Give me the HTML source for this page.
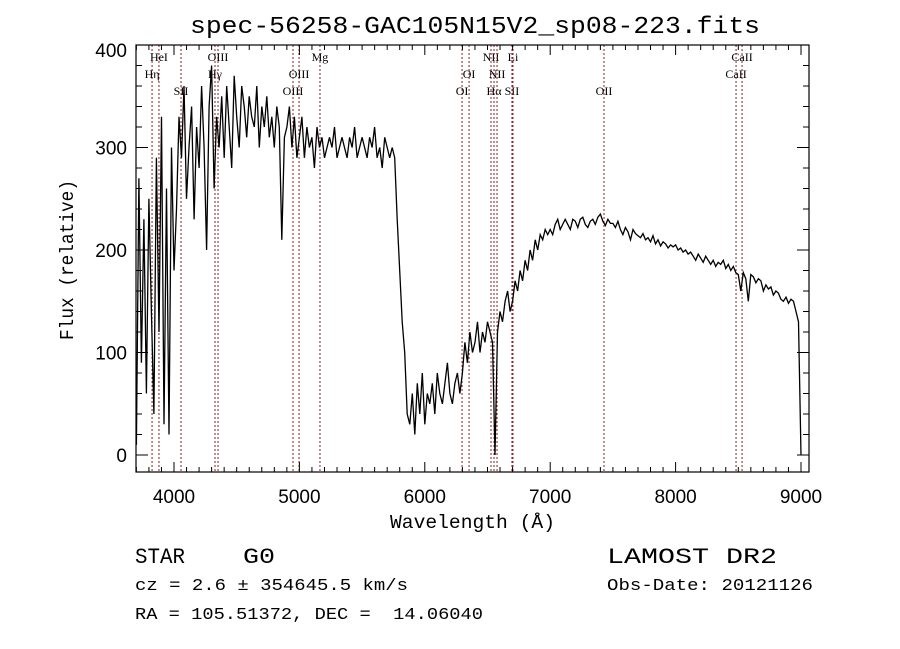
<!DOCTYPE html>
<html><head><meta charset="utf-8"><style>
html,body{margin:0;padding:0;background:#fff;}
svg{display:block;}
text{font-family:"Liberation Sans",sans-serif;fill:#000;}
.mono{font-family:"Liberation Mono",monospace;}
.lbl{font-family:"Liberation Serif",serif;font-size:12px;}
</style></head><body>
<svg id="chart" width="900" height="649" viewBox="0 0 900 649" xmlns="http://www.w3.org/2000/svg">
<rect x="0" y="0" width="900" height="649" fill="#fff"/>
<text class="mono" x="190" y="33" font-size="24" textLength="570" lengthAdjust="spacingAndGlyphs">spec-56258-GAC105N15V2_sp08-223.fits</text>
<g id="lines"></g>
<g id="spec"></g>
<g id="axes"></g>
<text class="mono" x="390" y="528" font-size="19" textLength="165" lengthAdjust="spacingAndGlyphs">Wavelength (Å)</text>
<text class="mono" x="0" y="0" font-size="19" textLength="160" lengthAdjust="spacingAndGlyphs" transform="translate(73,340) rotate(-90)">Flux (relative)</text>
<text class="mono" x="135" y="563" font-size="22" textLength="50" lengthAdjust="spacingAndGlyphs">STAR</text>
<text class="mono" x="243" y="563" font-size="22" textLength="32" lengthAdjust="spacingAndGlyphs">G0</text>
<text class="mono" x="135" y="590" font-size="17" textLength="273" lengthAdjust="spacingAndGlyphs">cz = 2.6 ± 354645.5 km/s</text>
<text class="mono" x="135" y="619" font-size="17" textLength="348" lengthAdjust="spacingAndGlyphs" xml:space="preserve">RA = 105.51372, DEC =  14.06040</text>
<text class="mono" x="607" y="563" font-size="22" textLength="170" lengthAdjust="spacingAndGlyphs">LAMOST DR2</text>
<text class="mono" x="607" y="590" font-size="17" textLength="206" lengthAdjust="spacingAndGlyphs">Obs-Date: 20121126</text>
</svg>
<script>
const waveStart = 3700;
const waveStep = 20;
const flux = [
10,270,90,230,60,250,140,40,290,120,330,30,260,20,300,
180,240,330,290,360,250,300,340,230,320,280,360,300,200,340,380,260,330,300,350,290,360,320,280,370,
330,300,360,340,310,350,330,320,360,300,340,320,350,310,330,300,340,320,210,310,320,340,300,330,290,
310,330,290,320,300,310,280,320,300,310,290,300,310,300,320,290,300,310,300,290,310,300,320,290,300,
310,300,290,310,300,320,290,300,280,310,300,290,300,290,230,
180,130,100,40,30,60,20,70,40,80,30,60,50,70,40,80,60,50,70,90,60,50,70,80,60,
80,110,90,120,100,110,130,100,120,110,130,120,110,
0,120,
140,130,150,160,140,150,170,160,180,170,190,180,200,190,210,200,215,210,220,215,
220,215,225,230,220,225,230,225,220,230,228,222,230,232,225,222,228,230,225,232,235,228,224,230,226,
226,222,228,220,215,222,218,210,220,216,214,212,216,210,212,208,214,206,210,204,208,206,202,205,203,
205,200,202,198,200,196,198,194,190,196,192,188,194,190,186,190,184,188,186,190,182,186,180,184,178,
176,160,178,172,150,176,174,168,172,170,160,166,162,164,156,160,158,152,150,154,148,152,150,140,130,
0
];
const lineWaves = [3825,3880,4056,4327,4351,4949,4997,5164,6297,6353,6528,6552,6576,6695,6703,7429,8482,8530];
const lineNames = ["Hη","HeI","SII","Hγ","OIII","OIII","OIII","Mg","OI","OI","NII","Hα","NII","SII","Li","OII","CaII","CaII"];
const lineRows = [2,1,3,2,1,3,2,1,3,2,1,3,2,3,1,3,2,1];
const xTickLabels = ["4000","5000","6000","7000","8000","9000"];
const xTickValues = [4000,5000,6000,7000,8000,9000];
const yTickLabels = ["0","100","200","300","400"];
const yTickValues = [0,100,200,300,400];

const L=136,R=809,T=45,B=472;
const xMin=4000-(174-L)/0.1254, xMax=9000+(R-801)/0.1254;
const yMin=-(B-455)/1.0254, yMax=400;
function X(w){return L+(w-xMin)/(xMax-xMin)*(R-L);}
function Y(f){return B-(f-yMin)/(yMax-yMin)*(B-T);}
const NS="http://www.w3.org/2000/svg";
function mk(t,a,p){const e=document.createElementNS(NS,t);for(const k in a)e.setAttribute(k,a[k]);p.appendChild(e);return e;}

let d="";
flux.forEach((f,i)=>{const w=waveStart+i*waveStep;d+=(i?"L":"M")+X(w).toFixed(1)+","+Y(f).toFixed(1);});
const sp=mk("path",{d:d,fill:"none",stroke:"#000","stroke-width":"1.3","stroke-linejoin":"miter"},document.getElementById("spec"));



const lg=document.getElementById("lines");
const rowY=[0,61,78,95];
lineWaves.forEach((w,i)=>{
  const x=X(w);
  const ln=mk("line",{x1:x,y1:T,x2:x,y2:B,stroke:"#8b2020","stroke-width":"1","stroke-dasharray":"2,2"},lg);
  
  
  const tx=mk("text",{x:x,y:rowY[lineRows[i]],"text-anchor":"middle",class:"lbl"},lg);
  tx.textContent=lineNames[i];
  
  
});

const ax=document.getElementById("axes");
const fr=mk("rect",{x:L,y:T,width:R-L,height:B-T,fill:"none",stroke:"#000","stroke-width":"1.2"},ax);


let td="";
for(let w=3700;w<=9000;w+=100){const x=X(w);const len=(w%1000===0)?10:5;td+=`M${x},${B}v${-len}M${x},${T}v${len}`;}
for(let f=0;f<=400;f+=20){const y=Y(f);const len=(f%100===0)?12:6;td+=`M${L},${y}h${len}M${R},${y}h${-len}`;}
const tk=mk("path",{d:td,stroke:"#000","stroke-width":"1",fill:"none"},ax);


xTickValues.forEach((v,i)=>{
  const t=mk("text",{x:X(v),y:503,"font-size":"19","text-anchor":"middle"},ax);
  t.textContent=xTickLabels[i];
  
  
});
yTickValues.forEach((v,i)=>{
  let y=Y(v)+7; if(v===400) y=Y(v)+12;
  const t=mk("text",{x:127,y:y,"font-size":"19","text-anchor":"end"},ax);
  t.textContent=yTickLabels[i];
  
  
});
</script>
</body></html>
